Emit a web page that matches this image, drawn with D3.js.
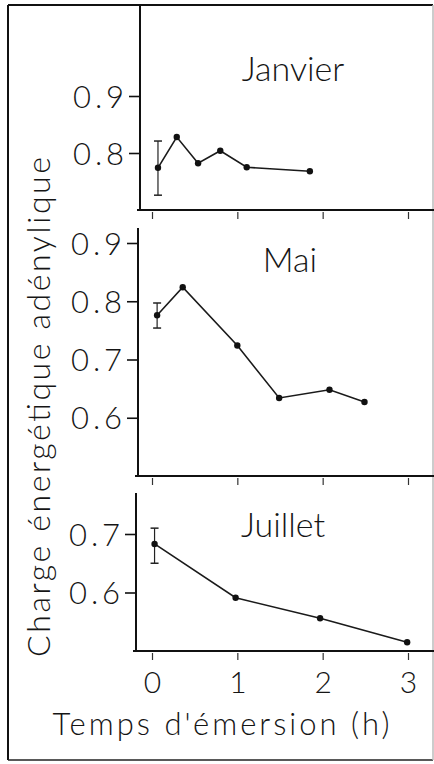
<!DOCTYPE html>
<html>
<head>
<meta charset="utf-8">
<script src="https://cdn.jsdelivr.net/npm/d3@7/dist/d3.min.js"></script>
<style>
body { margin: 0; background: #fff; }
text { font-family: "Lato", "DejaVu Sans", sans-serif; font-weight: 300; fill: #151515; }
</style>
</head>
<body>
<svg></svg>
<script>
// categories and tick labels
var months = ["Janvier", "Mai", "Juillet"];
var hourTicks = [0, 1, 2, 3];

// Janvier
var janHours  = [0.07, 0.29, 0.54, 0.80, 1.11, 1.85];
var janCharge = [0.774, 0.828, 0.782, 0.804, 0.775, 0.768];
var janErr    = [0.726, 0.821];
var janTicks  = [0.8, 0.9];

// Mai
var maiHours  = [0.06, 0.36, 1.00, 1.49, 2.08, 2.49];
var maiCharge = [0.776, 0.824, 0.724, 0.634, 0.648, 0.627];
var maiErr    = [0.754, 0.797];
var maiTicks  = [0.6, 0.7, 0.8, 0.9];

// Juillet
var julHours  = [0.03, 0.98, 1.97, 2.99];
var julCharge = [0.683, 0.591, 0.556, 0.515];
var julErr    = [0.650, 0.710];
var julTicks  = [0.6, 0.7];

var W = 434, H = 764;

var svg = d3.select("svg")
    .attr("width", W)
    .attr("height", H);

// outer frame
svg.append("line").attr("x1", 8).attr("y1", 5).attr("x2", 433).attr("y2", 5)
    .attr("stroke", "#111").attr("stroke-width", 2);
svg.append("line").attr("x1", 8).attr("y1", 5).attr("x2", 8).attr("y2", 760)
    .attr("stroke", "#111").attr("stroke-width", 2);
svg.append("line").attr("x1", 8).attr("y1", 760).attr("x2", 433).attr("y2", 760)
    .attr("stroke", "#222").attr("stroke-width", 1.5);
svg.append("line").attr("x1", 433).attr("y1", 5).attr("x2", 433).attr("y2", 760)
    .attr("stroke", "#bbb").attr("stroke-width", 1.5);

// shared x scale (hours)
var x = d3.scaleLinear()
    .domain([0, 3])
    .range([152, 408]);

// panel layout
var panels = [
  {name: months[0], hours: janHours, charge: janCharge, err: janErr, ticks: janTicks,
   domain: [0.7, 0.9], range: [210, 96], top: 5, left: 140, titleX: 293, titleY: 81},
  {name: months[1], hours: maiHours, charge: maiCharge, err: maiErr, ticks: maiTicks,
   domain: [0.5, 0.9], range: [476, 243], top: 228, left: 138, titleX: 290, titleY: 272},
  {name: months[2], hours: julHours, charge: julCharge, err: julErr, ticks: julTicks,
   domain: [0.5, 0.7], range: [651, 534], top: 493, left: 136, titleX: 283, titleY: 537}
];

panels.forEach(function(p, i) {
  var y = d3.scaleLinear()
      .domain(p.domain)
      .range(p.range);
  var bottom = p.range[0];

  // y axis
  var gy = svg.append("g")
      .attr("transform", "translate(" + p.left + ",0)")
      .call(d3.axisLeft(y)
          .tickValues(p.ticks)
          .tickSize(11)
          .tickPadding(5)
          .tickFormat(d3.format(".1f")));
  gy.select(".domain").remove();
  gy.selectAll("line").attr("stroke", "#111").attr("stroke-width", 1.6);
  gy.selectAll("text")
      .style("font-size", "31px")
      .attr("dy", "0.36em")
      .attr("textLength", 51)
      .attr("lengthAdjust", "spacing");

  svg.append("line")
      .attr("x1", p.left).attr("x2", p.left)
      .attr("y1", p.top).attr("y2", bottom + 1)
      .attr("stroke", "#111").attr("stroke-width", 2);

  // x axis
  var gx = svg.append("g")
      .attr("transform", "translate(0," + (bottom + 2) + ")")
      .call(d3.axisBottom(x)
          .tickValues(hourTicks)
          .tickSize(7)
          .tickFormat(i == 2 ? d3.format("d") : ""));
  gx.select(".domain").remove();
  gx.selectAll("line").attr("stroke", "#333").attr("stroke-width", 1.2);
  gx.selectAll("text").style("font-size", "30px").attr("y", 40).attr("dy", 0);

  svg.append("line")
      .attr("x1", p.left - 3).attr("x2", W)
      .attr("y1", bottom).attr("y2", bottom)
      .attr("stroke", "#111").attr("stroke-width", 2.2);

  // month title
  svg.append("text")
      .attr("x", p.titleX)
      .attr("y", p.titleY)
      .attr("text-anchor", "middle")
      .style("font-size", "34px")
      .text(p.name);

  var pts = p.hours.map(function(h, j) { return [h, p.charge[j]]; });

  // error bar on first point
  var ex = x(p.hours[0]);
  svg.append("line")
      .attr("x1", ex).attr("x2", ex)
      .attr("y1", y(p.err[0])).attr("y2", y(p.err[1]))
      .attr("stroke", "#222").attr("stroke-width", 1.2);
  svg.selectAll(null)
      .data(p.err)
      .enter()
      .append("line")
      .attr("x1", ex - 4).attr("x2", ex + 4)
      .attr("y1", function(d) { return y(d); })
      .attr("y2", function(d) { return y(d); })
      .attr("stroke", "#222").attr("stroke-width", 1.5);

  // line
  svg.append("path")
      .datum(pts)
      .attr("fill", "none")
      .attr("stroke", "#1a1a1a")
      .attr("stroke-width", 1.6)
      .attr("d", d3.line()
          .x(function(d) { return x(d[0]); })
          .y(function(d) { return y(d[1]); }));

  // points
  svg.selectAll(null)
      .data(pts)
      .enter()
      .append("circle")
      .attr("cx", function(d) { return x(d[0]); })
      .attr("cy", function(d) { return y(d[1]); })
      .attr("r", 3.2)
      .attr("fill", "#111");
});

// axis titles
svg.append("text")
    .attr("transform", "translate(50,407) rotate(-90)")
    .attr("text-anchor", "middle")
    .attr("textLength", 500)
    .attr("lengthAdjust", "spacing")
    .style("font-size", "32px")
    .text("Charge énergétique adénylique");

svg.append("text")
    .attr("x", 221)
    .attr("y", 735)
    .attr("text-anchor", "middle")
    .attr("textLength", 337)
    .attr("lengthAdjust", "spacing")
    .style("font-size", "31px")
    .text("Temps d'émersion (h)");
</script>
</body>
</html>
